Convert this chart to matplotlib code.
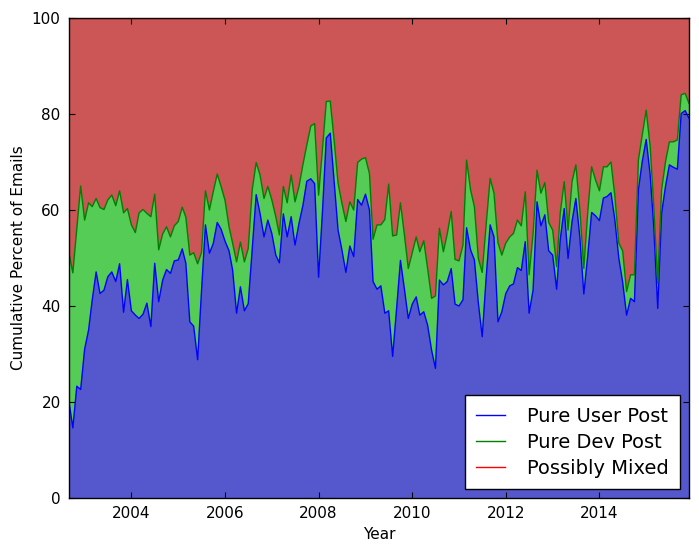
import matplotlib
matplotlib.use("Agg")
import matplotlib.pyplot as plt
import matplotlib.dates as mdates
import pandas as pd
import numpy as np

# Monthly dates, Sep 2002 .. Dec 2015
months = pd.date_range("2002-09-01", periods=160, freq="MS")

# Cumulative percent: pure user posts (blue boundary)
user_cum = [
    20.1, 14.6, 23.3, 22.6, 31.0, 35.0, 41.2, 47.1, 42.6, 43.3,
    46.1, 47.1, 45.1, 48.8, 38.7, 45.5, 39.0, 38.1, 37.4, 38.3,
    40.6, 35.7, 48.9, 40.9, 45.4, 47.6, 46.8, 49.4, 49.6, 51.9,
    48.9, 36.7, 35.8, 28.8, 43.0, 56.9, 51.0, 53.0, 57.4, 56.0,
    53.5, 51.5, 47.5, 38.5, 44.0, 39.0, 40.5, 52.0, 63.2, 59.3,
    54.4, 57.9, 55.1, 50.6, 49.0, 59.2, 54.4, 58.6, 52.7, 57.2,
    61.0, 66.0, 66.5, 65.5, 46.0, 60.0, 75.0, 76.0, 66.2, 55.8,
    51.7, 47.0, 52.5, 50.3, 62.2, 61.0, 63.3, 60.0, 45.1, 43.5,
    44.2, 38.5, 39.0, 29.5, 39.5, 49.5, 43.5, 37.4, 40.4, 41.9,
    38.1, 38.8, 36.0, 30.8, 27.0, 45.4, 44.4, 45.1, 47.8, 40.4,
    40.0, 41.3, 56.3, 51.7, 49.6, 40.6, 33.6, 46.0, 56.9, 54.4,
    36.7, 38.8, 42.6, 44.2, 44.6, 48.0, 47.4, 53.4, 38.5, 43.3,
    61.7, 56.7, 59.0, 51.5, 50.6, 43.5, 53.8, 60.3, 49.9, 57.6,
    62.4, 54.4, 42.5, 50.3, 59.5, 58.8, 57.8, 62.5, 62.8, 63.6,
    58.0, 50.0, 45.0, 38.1, 41.6, 40.9, 64.2, 70.1, 74.7, 67.3,
    56.5, 39.5, 59.3, 65.0, 69.4, 68.9, 68.5, 80.1, 80.7, 79.1,
]

# Cumulative percent: user + pure dev posts (green boundary)
dev_cum = [
    51.0, 46.9, 56.0, 65.0, 57.9, 61.5, 60.7, 62.4, 60.5, 60.1,
    62.1, 63.1, 60.9, 64.0, 59.4, 60.3, 56.9, 55.3, 59.4, 60.1,
    59.3, 58.6, 63.3, 51.7, 55.0, 56.5, 54.4, 56.7, 57.6, 60.6,
    58.5, 50.6, 51.1, 48.8, 51.1, 64.0, 60.0, 63.8, 67.5, 64.9,
    62.0, 56.5, 53.1, 49.2, 53.3, 49.2, 52.0, 64.2, 69.9, 67.3,
    62.4, 64.9, 62.1, 58.6, 54.8, 64.9, 61.5, 67.3, 61.7, 64.9,
    69.5, 73.5, 77.5, 78.0, 63.1, 72.9, 82.6, 82.7, 74.6, 65.6,
    61.4, 57.6, 61.7, 60.0, 69.9, 70.6, 70.9, 67.6, 53.9, 56.9,
    56.9, 58.0, 65.4, 54.6, 54.8, 61.5, 54.8, 47.8, 51.1, 54.4,
    51.3, 53.6, 47.8, 41.6, 42.1, 56.2, 51.3, 55.0, 59.7, 49.7,
    49.4, 52.7, 70.4, 64.2, 60.7, 49.9, 47.0, 57.0, 66.6, 63.5,
    53.2, 50.6, 53.1, 54.4, 55.1, 57.9, 56.7, 63.8, 46.5, 55.0,
    68.3, 63.5, 65.7, 57.4, 55.8, 48.2, 59.3, 65.9, 55.8, 65.9,
    69.4, 60.0, 47.8, 59.3, 69.0, 66.3, 64.0, 69.0, 69.0, 70.0,
    63.0, 53.1, 51.5, 43.0, 46.5, 46.5, 70.4, 75.6, 80.8, 73.2,
    60.7, 44.7, 64.2, 70.1, 74.2, 74.2, 74.6, 84.0, 84.3, 82.2,
]

# Possibly mixed tops the stack at 100 %
mixed_cum = [100.0] * len(months)

labels = ["Pure User Post", "Pure Dev Post", "Possibly Mixed"]
line_colors = ["#0000ff", "#007f00", "#ff0000"]
fill_colors = ["#5558cc", "#55cc55", "#cc5555"]

plt.rcParams["font.family"] = ["DejaVu Sans"]
fig = plt.figure(figsize=(6.99, 5.57), dpi=100)
ax = fig.add_axes([0.0987, 0.1059, 0.887, 0.8618])

x = months
ax.fill_between(x, 0, user_cum, facecolor=fill_colors[0], edgecolor="none")
ax.fill_between(x, user_cum, dev_cum, facecolor=fill_colors[1], edgecolor="none")
ax.fill_between(x, dev_cum, mixed_cum, facecolor=fill_colors[2], edgecolor="none")
ax.plot(x, user_cum, color=line_colors[0], lw=1.0, label=labels[0])
ax.plot(x, dev_cum, color=line_colors[1], lw=1.0, label=labels[1])
ax.plot(x, mixed_cum, color=line_colors[2], lw=1.0, label=labels[2])

ax.set_xlim(x[0], x[-1])
ax.set_ylim(0, 100)
ax.set_yticks([0, 20, 40, 60, 80, 100])
ax.xaxis.set_major_locator(mdates.YearLocator(2))
ax.xaxis.set_major_formatter(mdates.DateFormatter("%Y"))
ax.tick_params(direction="in", top=True, right=True, labelsize=11, length=4, pad=6)
for s in ax.spines.values():
    s.set_linewidth(1.0)
ax.set_xlabel("Year", fontsize=11)
ax.set_ylabel("Cumulative Percent of Emails", fontsize=11)

leg = ax.legend(loc="lower right", fontsize=14, handlelength=1.5, fancybox=False,
                framealpha=1.0, edgecolor="black", borderpad=0.6, labelspacing=0.35,
                handletextpad=1.1, borderaxespad=0.45)
leg.get_frame().set_linewidth(1.0)

fig.savefig("out.png", dpi=100)
